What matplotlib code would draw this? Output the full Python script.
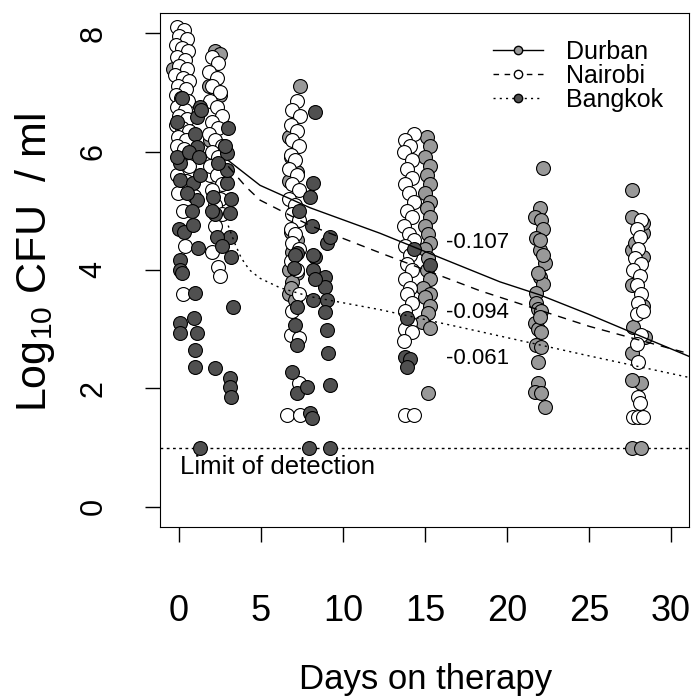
import matplotlib
matplotlib.use("Agg")
import matplotlib.pyplot as plt
from matplotlib.lines import Line2D

plt.rcParams['font.family'] = ['Liberation Sans', 'DejaVu Sans']
narrow = ['Liberation Sans Narrow', 'Liberation Sans']

# ---- data (day, log10 CFU/ml) ----
nairobi_x = [-0.1, 0.3, 0.0, 0.5, -0.2, 0.2, 0.55, -0.1, 0.35, 0.0, 0.5, -0.25, 0.25, 0.6, -0.05, 0.4,
             -0.2, 0.15, 0.55, -0.1, 0.35, 0.0, 0.5, -0.2, 0.2, 0.6, -0.05, 0.4, -0.15, 0.3, 0.55, 0.05,
             0.6, -0.1, 0.45, 0.3, -0.05, 0.25, 0.35, 0.25, 0.9, 1.9,
             2.0, 2.4, 1.8, 2.3, 2.0, 2.5, 1.9, 2.3, 2.6, 2.0, 2.4, 1.8, 2.2, 2.6, 2.0, 2.4, 1.9, 2.3,
             2.6, 2.0, 2.5, 2.2, 2.6, 2.2, 2.0, 2.4, 2.5,
             7.2, 6.9, 7.4, 6.8, 7.2, 6.9, 7.3, 6.8, 7.1, 6.7, 7.2, 6.9, 7.3, 6.7, 7.1, 6.9, 7.3, 6.8,
             7.1, 6.9, 7.3, 6.8, 7.2, 7.3, 6.9, 6.8, 7.3, 7.3, 6.6, 7.4,
             14.3, 13.8, 14.1, 13.7, 14.2, 13.9, 14.2, 13.8, 14.0, 14.3, 13.9, 14.2, 13.7, 14.0, 14.3,
             13.8, 14.1, 13.9, 14.2, 13.8, 14.1, 13.9, 14.2, 13.8, 14.1, 13.8, 14.2, 13.7, 13.8, 14.3,
             28.2, 27.9, 28.1, 28.0, 27.8, 28.2, 27.7, 28.1, 27.9, 28.2, 28.0, 27.9, 28.3, 28.2, 27.9,
             28.0, 28.0, 28.1, 27.7, 28.0, 28.3]
nairobi_y = [8.1, 8.05, 7.95, 7.9, 7.8, 7.75, 7.7, 7.6, 7.55, 7.45, 7.4, 7.3, 7.25, 7.2, 7.1, 7.05,
             6.95, 6.9, 6.85, 6.75, 6.7, 6.6, 6.55, 6.45, 6.4, 6.35, 6.25, 6.2, 6.1, 6.05, 5.95, 5.85,
             5.75, 5.6, 5.5, 5.35, 5.3, 5.0, 4.4, 3.6, 5.25, 5.6,
             7.6, 7.5, 7.35, 7.25, 7.1, 7.0, 6.85, 6.75, 6.6, 6.5, 6.4, 6.3, 6.2, 6.1, 6.0, 5.9, 5.75, 5.6,
             5.45, 5.35, 5.2, 5.1, 4.95, 4.75, 4.3, 4.05, 3.9,
             6.85, 6.7, 6.6, 6.45, 6.35, 6.2, 6.1, 5.95, 5.85, 5.7, 5.6, 5.45, 5.35, 5.2, 5.1, 4.95, 4.85, 4.7,
             4.6, 4.45, 4.35, 4.15, 4.0, 3.6, 3.3, 2.9, 2.85, 2.1, 1.55, 1.55,
             6.3, 6.2, 6.1, 6.0, 5.85, 5.7, 5.55, 5.45, 5.3, 5.15, 5.0, 4.9, 4.75, 4.6, 4.5,
             4.4, 4.25, 4.1, 4.0, 3.85, 3.7, 3.6, 3.45, 3.3, 3.1, 3.0, 2.95, 2.8, 1.55, 1.55,
             4.85, 4.7, 4.55, 4.35, 4.2, 4.1, 4.0, 3.9, 3.75, 3.6, 3.45, 3.25, 3.3, 2.9, 2.75,
             2.45, 1.85, 1.75, 1.52, 1.52, 1.52]

durban_x = [-0.35, 2.2, 2.5, 1.8, 2.5, 1.9, 2.6, 0.4,
            7.4, 6.7, 6.8, 7.2, 6.7, 7.0, 6.8, 7.2, 6.9, 6.7, 7.2, 6.9, 6.7, 7.1, 6.8,
            15.1, 15.3, 15.0, 15.3, 15.1, 15.3, 15.0, 15.3, 15.1, 15.3, 15.0, 15.2, 15.3, 15.0, 15.2,
            15.1, 15.3, 14.9, 15.3, 15.0, 15.3, 15.2, 14.8, 15.3, 15.2,
            22.2, 22.0, 21.7, 22.1, 22.2, 21.8, 22.0, 22.3, 22.0, 22.2, 21.8, 21.8, 21.9, 22.1, 21.7,
            21.9, 22.1, 21.8, 22.1, 21.9, 21.9, 21.7, 22.1, 22.3, 22.0, 22.2, 21.9, 22.0,
            27.6, 27.6, 28.3, 27.6, 28.3, 27.6, 28.3, 27.7, 28.4, 27.6, 28.2, 27.6, 27.6, 28.2, 28.3, 27.8]
durban_y = [7.4, 7.7, 7.65, 7.1, 6.95, 6.2, 5.5, 6.3,
            7.1, 6.25, 5.9, 5.65, 5.5, 5.0, 4.65, 4.5, 4.3, 4.0, 3.95, 3.8, 3.6, 3.5, 3.7,
            6.25, 6.1, 5.9, 5.75, 5.6, 5.45, 5.3, 5.15, 5.05, 4.9, 4.75, 4.6, 4.45, 4.35, 4.2,
            4.0, 3.85, 3.7, 3.6, 3.55, 3.4, 3.27, 3.12, 3.02, 1.92,
            5.72, 5.05, 4.9, 4.85, 4.7, 4.54, 4.34, 4.12, 3.88, 3.77, 3.61, 3.44, 3.34, 3.3, 3.1,
            3.0, 2.95, 2.73, 2.7, 2.45, 2.1, 1.94, 1.92, 1.69, 4.5, 4.25, 3.95, 3.2,
            5.35, 4.9, 4.62, 4.34, 4.22, 3.75, 3.4, 3.04, 2.87, 2.6, 2.1, 2.15, 1.0, 1.0, 4.8, 4.45]

bangkok_x = [0.05, 0.05, 0.85, 1.1, 0.8, 0.0, 0.3, 0.85, 0.05, 0.05, 0.2, 1.0, 1.15, 0.05, 0.05, 0.9,
             1.1, 1.0, 0.95, 1.28, 1.28, 1.1, 1.35, 0.95, 1.1, -0.1, 0.6, 1.2, 0.5, 1.3, -0.1, 0.2,
             2.9, 3.1, 3.1, 3.2, 2.3, 2.2, 2.1, 2.9, 3.0, 2.9, 2.2, 3.1, 3.1, 3.2, 3.3, 2.8, 2.4, 3.2,
             2.6, 2.0,
             8.3, 8.2, 8.0, 9.0, 9.2, 7.2, 8.3, 7.1, 8.2, 8.2, 7.0, 8.9, 8.9, 8.2, 9.0, 8.9, 7.2, 7.1,
             7.2, 9.0, 9.1, 6.9, 7.2, 7.8, 9.2, 8.0, 8.1, 7.9, 9.2, 7.3, 8.1, 8.3,
             13.9, 13.8, 14.1, 13.9, 15.3, 14.3]
bangkok_y = [5.8, 5.52, 5.47, 5.18, 5.0, 4.7, 4.65, 4.76, 4.17, 4.0, 3.95, 3.61, 4.37, 3.1, 2.94, 3.19,
             2.94, 2.65, 2.36, 1.0, 6.75, 6.58, 6.7, 6.3, 6.08, 5.9, 6.0, 5.9, 5.3, 5.6, 6.5, 6.9,
             5.47, 4.96, 4.56, 4.22, 4.56, 4.95, 5.23, 5.69, 6.4, 5.97, 2.35, 2.18, 2.03, 1.86, 3.38, 6.1,
             5.8, 5.2, 4.4, 5.0,
             6.67, 5.47, 5.23, 4.46, 4.55, 4.29, 4.22, 4.25, 4.25, 4.0, 4.03, 3.88, 3.71, 3.49, 3.49, 3.29,
             3.38, 3.07, 2.73, 2.99, 2.6, 2.28, 1.92, 2.03, 2.06, 1.59, 1.5, 1.0, 1.0, 5.0, 4.75, 3.85,
             3.19, 2.53, 2.5, 2.36, 4.08, 4.35]

# fitted decline curves
durban_fit_x = [3.0, 4.94, 8, 12.26, 16, 19.57, 22, 25, 28, 31.2]
durban_fit_y = [5.85, 5.43, 5.05, 4.62, 4.2, 3.8, 3.58, 3.25, 2.9, 2.53]
nairobi_fit_x = [3.0, 4.1, 4.94, 8, 12.26, 18.35, 25, 31.2]
nairobi_fit_y = [5.75, 5.4, 5.18, 4.75, 4.29, 3.65, 3.05, 2.58]
bangkok_fit_x = [3.0, 3.4, 3.8, 4.3, 4.94, 6.16, 8, 12.26, 18.35, 25, 31.2]
bangkok_fit_y = [4.75, 4.45, 4.2, 4.0, 3.86, 3.7, 3.55, 3.33, 2.96, 2.55, 2.18]

slopes = ["-0.107", "-0.094", "-0.061"]
slope_y = [4.46, 3.29, 2.51]
lod = 1.0

grey = "#999999"
dark = "#505050"

fig = plt.figure(figsize=(6.93, 6.98), dpi=100)
ax = fig.add_axes([160 / 693, 1 - 527 / 698, 529 / 693, 514 / 698])

# points
ax.scatter(durban_x, durban_y, s=100, c=grey, edgecolors="black", linewidths=0.8, zorder=2)
ax.scatter(nairobi_x, nairobi_y, s=100, c="white", edgecolors="black", linewidths=0.8, zorder=3)
ax.scatter(bangkok_x, bangkok_y, s=100, c=dark, edgecolors="black", linewidths=0.8, zorder=4)

# fit lines
ax.plot(durban_fit_x, durban_fit_y, color="black", lw=1, ls="-", zorder=5)
ax.plot(nairobi_fit_x, nairobi_fit_y, color="black", lw=1, ls=(0, (6, 5)), zorder=5)
ax.plot(bangkok_fit_x, bangkok_fit_y, color="black", lw=1, ls=(0, (1.5, 3)), zorder=5)

# limit of detection
ax.axhline(lod, color="black", lw=1, ls=(0, (2, 2.5)), zorder=1)
ax.text(0.05, 0.68, "Limit of detection", fontsize=18.5, family=narrow, ha="left", va="center")

for s, yy in zip(slopes, slope_y):
    ax.text(16.3, yy, s, fontsize=16, family=narrow, ha="left", va="center")

ax.set_xlim(-1.16, 31.1)
ax.set_ylim(-0.34, 8.34)
ax.set_xticks([0, 5, 10, 15, 20, 25, 30])
ax.set_yticks([0, 2, 4, 6, 8])
ax.tick_params(axis="both", direction="out", length=11, width=1, labelsize=22)
ax.tick_params(axis="x", pad=37, labelsize=26)
ax.tick_params(axis="y", pad=26)
for lab in ax.get_xticklabels():
    lab.set_family(narrow)
for lab in ax.get_yticklabels():
    lab.set_rotation(90)
    lab.set_va("center")

fig.text(426 / 693, 1 - 680 / 698, "Days on therapy", fontsize=25, ha="center", va="center")
fig.text(35 / 693, 1 - 262 / 698, "Log$_{\\mathregular{10}}$ CFU  / ml", fontsize=31,
         ha="center", va="center", rotation=90)

handles = [
    Line2D([], [], color="black", lw=1, ls="-", marker="o", markersize=6,
           markerfacecolor=grey, markeredgecolor="black"),
    Line2D([], [], color="black", lw=1, ls=(0, (4, 4)), marker="o", markersize=6,
           markerfacecolor="white", markeredgecolor="black"),
    Line2D([], [], color="black", lw=1, ls=(0, (1.5, 3)), marker="o", markersize=6,
           markerfacecolor=dark, markeredgecolor="black"),
]
ax.legend(handles, ["Durban", "Nairobi", "Bangkok"], loc="upper right", frameon=False,
          prop={"family": narrow, "size": 18}, handlelength=2.0, handletextpad=0.9,
          labelspacing=0.0, bbox_to_anchor=(0.993, 0.992))

fig.savefig("out.png", dpi=100)
